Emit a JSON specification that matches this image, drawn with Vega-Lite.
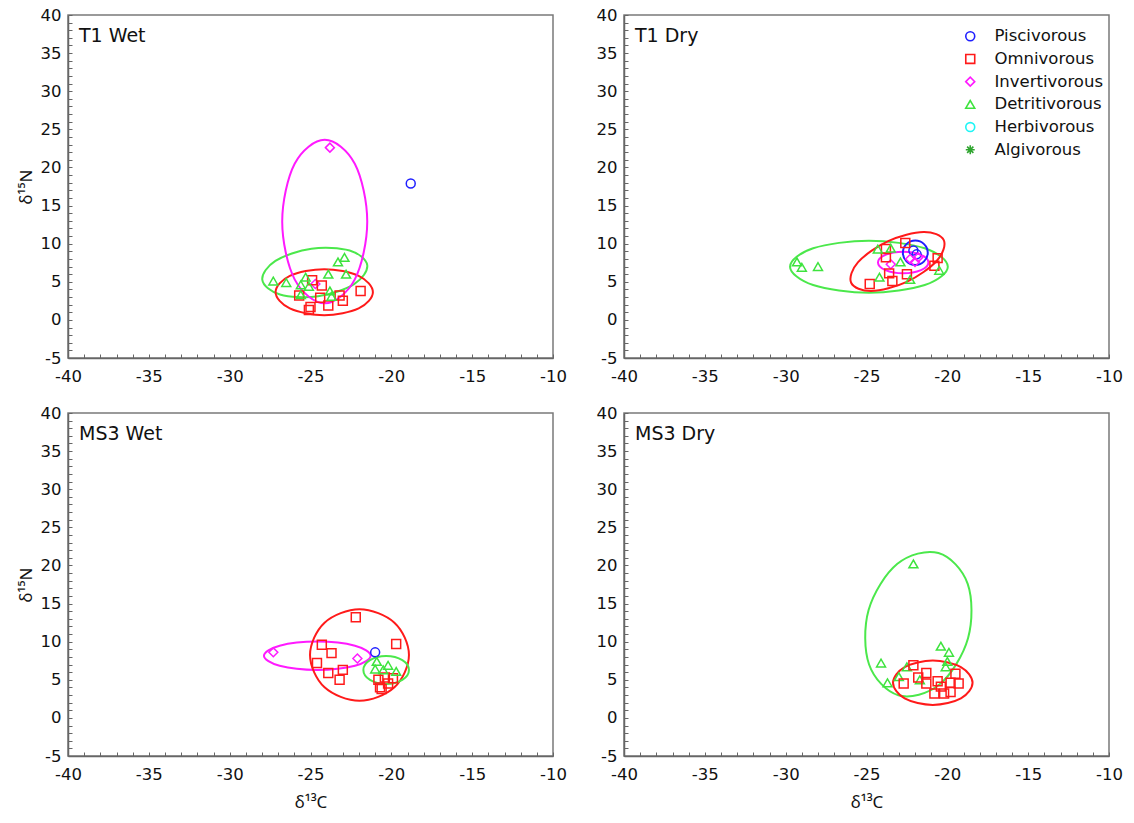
{
  "$schema": "https://vega.github.io/schema/vega-lite/v6.json",
  "background": "white",
  "padding": {"left": 16, "top": 6, "right": 5, "bottom": 5},
  "columns": 2,
  "spacing": {"row": 55, "column": 71},
  "bounds": "flush",
  "resolve": {"scale": {"color": "independent", "shape": "independent", "stroke": "independent"}},
  "datasets": {
    "pts": [
      {"panel": "T1 Wet", "group": "Piscivorous", "x": -18.8, "y": 17.9},
      {"panel": "T1 Wet", "group": "Invertivorous", "x": -23.8, "y": 22.6},
      {"panel": "T1 Wet", "group": "Invertivorous", "x": -24.7, "y": 4.7},
      {"panel": "T1 Wet", "group": "Omnivorous", "x": -24.9, "y": 5.2},
      {"panel": "T1 Wet", "group": "Omnivorous", "x": -24.3, "y": 4.5},
      {"panel": "T1 Wet", "group": "Omnivorous", "x": -25.7, "y": 3.2},
      {"panel": "T1 Wet", "group": "Omnivorous", "x": -25.0, "y": 1.7},
      {"panel": "T1 Wet", "group": "Omnivorous", "x": -24.4, "y": 2.9},
      {"panel": "T1 Wet", "group": "Omnivorous", "x": -23.9, "y": 1.9},
      {"panel": "T1 Wet", "group": "Omnivorous", "x": -23.2, "y": 3.2},
      {"panel": "T1 Wet", "group": "Omnivorous", "x": -23.0, "y": 2.5},
      {"panel": "T1 Wet", "group": "Omnivorous", "x": -21.9, "y": 3.8},
      {"panel": "T1 Wet", "group": "Omnivorous", "x": -25.1, "y": 1.3},
      {"panel": "T1 Wet", "group": "Detritivorous", "x": -27.3, "y": 5.1},
      {"panel": "T1 Wet", "group": "Detritivorous", "x": -26.5, "y": 4.9},
      {"panel": "T1 Wet", "group": "Detritivorous", "x": -25.3, "y": 5.6},
      {"panel": "T1 Wet", "group": "Detritivorous", "x": -25.6, "y": 4.6},
      {"panel": "T1 Wet", "group": "Detritivorous", "x": -25.1, "y": 4.4},
      {"panel": "T1 Wet", "group": "Detritivorous", "x": -23.9, "y": 6.0},
      {"panel": "T1 Wet", "group": "Detritivorous", "x": -23.3, "y": 7.6},
      {"panel": "T1 Wet", "group": "Detritivorous", "x": -22.9, "y": 8.2},
      {"panel": "T1 Wet", "group": "Detritivorous", "x": -22.8, "y": 6.0},
      {"panel": "T1 Wet", "group": "Detritivorous", "x": -23.8, "y": 3.8},
      {"panel": "T1 Wet", "group": "Detritivorous", "x": -23.7, "y": 3.1},
      {"panel": "T1 Wet", "group": "Detritivorous", "x": -25.6, "y": 3.3},

      {"panel": "T1 Dry", "group": "Piscivorous", "x": -22.1, "y": 9.1},
      {"panel": "T1 Dry", "group": "Piscivorous", "x": -21.9, "y": 8.6},
      {"panel": "T1 Dry", "group": "Invertivorous", "x": -23.5, "y": 7.3},
      {"panel": "T1 Dry", "group": "Invertivorous", "x": -22.3, "y": 8.0},
      {"panel": "T1 Dry", "group": "Invertivorous", "x": -22.0, "y": 7.6},
      {"panel": "T1 Dry", "group": "Invertivorous", "x": -21.8, "y": 8.2},
      {"panel": "T1 Dry", "group": "Omnivorous", "x": -22.6, "y": 10.1},
      {"panel": "T1 Dry", "group": "Omnivorous", "x": -23.8, "y": 9.3},
      {"panel": "T1 Dry", "group": "Omnivorous", "x": -23.8, "y": 8.2},
      {"panel": "T1 Dry", "group": "Omnivorous", "x": -23.4, "y": 5.1},
      {"panel": "T1 Dry", "group": "Omnivorous", "x": -24.8, "y": 4.7},
      {"panel": "T1 Dry", "group": "Omnivorous", "x": -23.6, "y": 6.1},
      {"panel": "T1 Dry", "group": "Omnivorous", "x": -22.5, "y": 6.0},
      {"panel": "T1 Dry", "group": "Omnivorous", "x": -20.8, "y": 7.1},
      {"panel": "T1 Dry", "group": "Omnivorous", "x": -20.6, "y": 8.1},
      {"panel": "T1 Dry", "group": "Detritivorous", "x": -29.3, "y": 7.6},
      {"panel": "T1 Dry", "group": "Detritivorous", "x": -29.0, "y": 6.9},
      {"panel": "T1 Dry", "group": "Detritivorous", "x": -28.0, "y": 7.0},
      {"panel": "T1 Dry", "group": "Detritivorous", "x": -24.3, "y": 9.3},
      {"panel": "T1 Dry", "group": "Detritivorous", "x": -23.5, "y": 9.4},
      {"panel": "T1 Dry", "group": "Detritivorous", "x": -22.9, "y": 7.6},
      {"panel": "T1 Dry", "group": "Detritivorous", "x": -24.2, "y": 5.6},
      {"panel": "T1 Dry", "group": "Detritivorous", "x": -22.3, "y": 5.3},
      {"panel": "T1 Dry", "group": "Detritivorous", "x": -20.5, "y": 6.5},

      {"panel": "MS3 Wet", "group": "Piscivorous", "x": -21.0, "y": 8.6},
      {"panel": "MS3 Wet", "group": "Invertivorous", "x": -27.3, "y": 8.6},
      {"panel": "MS3 Wet", "group": "Invertivorous", "x": -22.1, "y": 7.8},
      {"panel": "MS3 Wet", "group": "Omnivorous", "x": -22.2, "y": 13.2},
      {"panel": "MS3 Wet", "group": "Omnivorous", "x": -19.7, "y": 9.7},
      {"panel": "MS3 Wet", "group": "Omnivorous", "x": -24.3, "y": 9.6},
      {"panel": "MS3 Wet", "group": "Omnivorous", "x": -23.7, "y": 8.5},
      {"panel": "MS3 Wet", "group": "Omnivorous", "x": -24.6, "y": 7.2},
      {"panel": "MS3 Wet", "group": "Omnivorous", "x": -23.9, "y": 5.9},
      {"panel": "MS3 Wet", "group": "Omnivorous", "x": -23.0, "y": 6.3},
      {"panel": "MS3 Wet", "group": "Omnivorous", "x": -23.2, "y": 5.0},
      {"panel": "MS3 Wet", "group": "Omnivorous", "x": -20.8, "y": 5.0},
      {"panel": "MS3 Wet", "group": "Omnivorous", "x": -20.4, "y": 5.3},
      {"panel": "MS3 Wet", "group": "Omnivorous", "x": -20.7, "y": 4.0},
      {"panel": "MS3 Wet", "group": "Omnivorous", "x": -20.2, "y": 4.5},
      {"panel": "MS3 Wet", "group": "Omnivorous", "x": -19.9, "y": 5.2},
      {"panel": "MS3 Wet", "group": "Omnivorous", "x": -20.6, "y": 3.8},
      {"panel": "MS3 Wet", "group": "Detritivorous", "x": -20.9, "y": 7.4},
      {"panel": "MS3 Wet", "group": "Detritivorous", "x": -21.0, "y": 6.4},
      {"panel": "MS3 Wet", "group": "Detritivorous", "x": -20.2, "y": 6.9},
      {"panel": "MS3 Wet", "group": "Detritivorous", "x": -19.7, "y": 6.1},
      {"panel": "MS3 Wet", "group": "Detritivorous", "x": -20.5, "y": 6.3},

      {"panel": "MS3 Dry", "group": "Detritivorous", "x": -22.1, "y": 20.2},
      {"panel": "MS3 Dry", "group": "Detritivorous", "x": -20.4, "y": 9.4},
      {"panel": "MS3 Dry", "group": "Detritivorous", "x": -19.9, "y": 8.6},
      {"panel": "MS3 Dry", "group": "Detritivorous", "x": -24.1, "y": 7.2},
      {"panel": "MS3 Dry", "group": "Detritivorous", "x": -22.5, "y": 6.7},
      {"panel": "MS3 Dry", "group": "Detritivorous", "x": -20.1, "y": 6.7},
      {"panel": "MS3 Dry", "group": "Detritivorous", "x": -20.0, "y": 7.4},
      {"panel": "MS3 Dry", "group": "Detritivorous", "x": -23.7, "y": 4.6},
      {"panel": "MS3 Dry", "group": "Detritivorous", "x": -23.0, "y": 5.4},
      {"panel": "MS3 Dry", "group": "Detritivorous", "x": -21.7, "y": 5.0},
      {"panel": "MS3 Dry", "group": "Omnivorous", "x": -22.1, "y": 6.9},
      {"panel": "MS3 Dry", "group": "Omnivorous", "x": -22.7, "y": 4.5},
      {"panel": "MS3 Dry", "group": "Omnivorous", "x": -21.8, "y": 5.3},
      {"panel": "MS3 Dry", "group": "Omnivorous", "x": -21.3, "y": 5.9},
      {"panel": "MS3 Dry", "group": "Omnivorous", "x": -21.3, "y": 4.5},
      {"panel": "MS3 Dry", "group": "Omnivorous", "x": -20.6, "y": 4.8},
      {"panel": "MS3 Dry", "group": "Omnivorous", "x": -20.8, "y": 3.2},
      {"panel": "MS3 Dry", "group": "Omnivorous", "x": -20.2, "y": 3.2},
      {"panel": "MS3 Dry", "group": "Omnivorous", "x": -19.8, "y": 3.4},
      {"panel": "MS3 Dry", "group": "Omnivorous", "x": -19.8, "y": 4.6},
      {"panel": "MS3 Dry", "group": "Omnivorous", "x": -19.5, "y": 5.8},
      {"panel": "MS3 Dry", "group": "Omnivorous", "x": -19.3, "y": 4.5},
      {"panel": "MS3 Dry", "group": "Omnivorous", "x": -20.4, "y": 4.1}
    ],
    "ell": [
      {"panel": "T1 Wet", "group": "Detritivorous", "i": 0, "x": -21.49, "y": 7.19},
      {"panel": "T1 Wet", "group": "Detritivorous", "i": 1, "x": -22.30, "y": 4.70},
      {"panel": "T1 Wet", "group": "Detritivorous", "i": 2, "x": -24.53, "y": 3.10},
      {"panel": "T1 Wet", "group": "Detritivorous", "i": 3, "x": -26.89, "y": 3.33},
      {"panel": "T1 Wet", "group": "Detritivorous", "i": 4, "x": -27.98, "y": 5.25},
      {"panel": "T1 Wet", "group": "Detritivorous", "i": 5, "x": -27.17, "y": 7.74},
      {"panel": "T1 Wet", "group": "Detritivorous", "i": 6, "x": -24.94, "y": 9.34},
      {"panel": "T1 Wet", "group": "Detritivorous", "i": 7, "x": -22.58, "y": 9.11},
      {"panel": "T1 Wet", "group": "Omnivorous", "i": 0, "x": -21.14, "y": 3.64},
      {"panel": "T1 Wet", "group": "Omnivorous", "i": 1, "x": -22.02, "y": 5.77},
      {"panel": "T1 Wet", "group": "Omnivorous", "i": 2, "x": -24.15, "y": 6.66},
      {"panel": "T1 Wet", "group": "Omnivorous", "i": 3, "x": -26.28, "y": 5.77},
      {"panel": "T1 Wet", "group": "Omnivorous", "i": 4, "x": -27.16, "y": 3.64},
      {"panel": "T1 Wet", "group": "Omnivorous", "i": 5, "x": -26.28, "y": 1.51},
      {"panel": "T1 Wet", "group": "Omnivorous", "i": 6, "x": -24.15, "y": 0.62},
      {"panel": "T1 Wet", "group": "Omnivorous", "i": 7, "x": -22.02, "y": 1.51},
      {"panel": "T1 Wet", "group": "Invertivorous", "i": 0, "x": -21.49, "y": 12.9},
      {"panel": "T1 Wet", "group": "Invertivorous", "i": 1, "x": -22.26, "y": 20.48},
      {"panel": "T1 Wet", "group": "Invertivorous", "i": 2, "x": -24.12, "y": 23.62},
      {"panel": "T1 Wet", "group": "Invertivorous", "i": 3, "x": -25.98, "y": 20.48},
      {"panel": "T1 Wet", "group": "Invertivorous", "i": 4, "x": -26.75, "y": 12.9},
      {"panel": "T1 Wet", "group": "Invertivorous", "i": 5, "x": -25.98, "y": 5.32},
      {"panel": "T1 Wet", "group": "Invertivorous", "i": 6, "x": -24.12, "y": 2.18},
      {"panel": "T1 Wet", "group": "Invertivorous", "i": 7, "x": -22.26, "y": 5.32},

      {"panel": "T1 Dry", "group": "Detritivorous", "i": 0, "x": -19.97, "y": 6.98},
      {"panel": "T1 Dry", "group": "Detritivorous", "i": 1, "x": -21.40, "y": 9.39},
      {"panel": "T1 Dry", "group": "Detritivorous", "i": 2, "x": -24.85, "y": 10.39},
      {"panel": "T1 Dry", "group": "Detritivorous", "i": 3, "x": -28.30, "y": 9.39},
      {"panel": "T1 Dry", "group": "Detritivorous", "i": 4, "x": -29.73, "y": 6.98},
      {"panel": "T1 Dry", "group": "Detritivorous", "i": 5, "x": -28.30, "y": 4.57},
      {"panel": "T1 Dry", "group": "Detritivorous", "i": 6, "x": -24.85, "y": 3.57},
      {"panel": "T1 Dry", "group": "Detritivorous", "i": 7, "x": -21.40, "y": 4.57},
      {"panel": "T1 Dry", "group": "Omnivorous", "i": 0, "x": -20.22, "y": 10.46},
      {"panel": "T1 Dry", "group": "Omnivorous", "i": 1, "x": -20.65, "y": 7.76},
      {"panel": "T1 Dry", "group": "Omnivorous", "i": 2, "x": -22.51, "y": 4.99},
      {"panel": "T1 Dry", "group": "Omnivorous", "i": 3, "x": -24.71, "y": 3.79},
      {"panel": "T1 Dry", "group": "Omnivorous", "i": 4, "x": -25.95, "y": 4.87},
      {"panel": "T1 Dry", "group": "Omnivorous", "i": 5, "x": -25.52, "y": 7.57},
      {"panel": "T1 Dry", "group": "Omnivorous", "i": 6, "x": -23.66, "y": 10.34},
      {"panel": "T1 Dry", "group": "Omnivorous", "i": 7, "x": -21.47, "y": 11.54},
      {"panel": "T1 Dry", "group": "Invertivorous", "i": 0, "x": -21.17, "y": 7.53},
      {"panel": "T1 Dry", "group": "Invertivorous", "i": 1, "x": -21.63, "y": 8.53},
      {"panel": "T1 Dry", "group": "Invertivorous", "i": 2, "x": -22.73, "y": 8.95},
      {"panel": "T1 Dry", "group": "Invertivorous", "i": 3, "x": -23.83, "y": 8.53},
      {"panel": "T1 Dry", "group": "Invertivorous", "i": 4, "x": -24.29, "y": 7.53},
      {"panel": "T1 Dry", "group": "Invertivorous", "i": 5, "x": -23.83, "y": 6.53},
      {"panel": "T1 Dry", "group": "Invertivorous", "i": 6, "x": -22.73, "y": 6.11},
      {"panel": "T1 Dry", "group": "Invertivorous", "i": 7, "x": -21.63, "y": 6.53},
      {"panel": "T1 Dry", "group": "Piscivorous", "i": 0, "x": -21.21, "y": 8.81},
      {"panel": "T1 Dry", "group": "Piscivorous", "i": 1, "x": -21.44, "y": 9.94},
      {"panel": "T1 Dry", "group": "Piscivorous", "i": 2, "x": -21.98, "y": 10.41},
      {"panel": "T1 Dry", "group": "Piscivorous", "i": 3, "x": -22.53, "y": 9.94},
      {"panel": "T1 Dry", "group": "Piscivorous", "i": 4, "x": -22.75, "y": 8.81},
      {"panel": "T1 Dry", "group": "Piscivorous", "i": 5, "x": -22.53, "y": 7.68},
      {"panel": "T1 Dry", "group": "Piscivorous", "i": 6, "x": -21.98, "y": 7.21},
      {"panel": "T1 Dry", "group": "Piscivorous", "i": 7, "x": -21.44, "y": 7.68},

      {"panel": "MS3 Wet", "group": "Invertivorous", "i": 0, "x": -21.28, "y": 8.15},
      {"panel": "MS3 Wet", "group": "Invertivorous", "i": 1, "x": -22.25, "y": 9.47},
      {"panel": "MS3 Wet", "group": "Invertivorous", "i": 2, "x": -24.58, "y": 10.01},
      {"panel": "MS3 Wet", "group": "Invertivorous", "i": 3, "x": -26.91, "y": 9.47},
      {"panel": "MS3 Wet", "group": "Invertivorous", "i": 4, "x": -27.88, "y": 8.15},
      {"panel": "MS3 Wet", "group": "Invertivorous", "i": 5, "x": -26.91, "y": 6.83},
      {"panel": "MS3 Wet", "group": "Invertivorous", "i": 6, "x": -24.58, "y": 6.29},
      {"panel": "MS3 Wet", "group": "Invertivorous", "i": 7, "x": -22.25, "y": 6.83},
      {"panel": "MS3 Wet", "group": "Omnivorous", "i": 0, "x": -18.91, "y": 8.25},
      {"panel": "MS3 Wet", "group": "Omnivorous", "i": 1, "x": -19.81, "y": 12.49},
      {"panel": "MS3 Wet", "group": "Omnivorous", "i": 2, "x": -21.97, "y": 14.25},
      {"panel": "MS3 Wet", "group": "Omnivorous", "i": 3, "x": -24.13, "y": 12.49},
      {"panel": "MS3 Wet", "group": "Omnivorous", "i": 4, "x": -25.03, "y": 8.25},
      {"panel": "MS3 Wet", "group": "Omnivorous", "i": 5, "x": -24.13, "y": 4.01},
      {"panel": "MS3 Wet", "group": "Omnivorous", "i": 6, "x": -21.97, "y": 2.25},
      {"panel": "MS3 Wet", "group": "Omnivorous", "i": 7, "x": -19.81, "y": 4.01},
      {"panel": "MS3 Wet", "group": "Detritivorous", "i": 0, "x": -18.91, "y": 6.29},
      {"panel": "MS3 Wet", "group": "Detritivorous", "i": 1, "x": -19.32, "y": 7.59},
      {"panel": "MS3 Wet", "group": "Detritivorous", "i": 2, "x": -20.32, "y": 8.13},
      {"panel": "MS3 Wet", "group": "Detritivorous", "i": 3, "x": -21.32, "y": 7.59},
      {"panel": "MS3 Wet", "group": "Detritivorous", "i": 4, "x": -21.73, "y": 6.29},
      {"panel": "MS3 Wet", "group": "Detritivorous", "i": 5, "x": -21.32, "y": 4.99},
      {"panel": "MS3 Wet", "group": "Detritivorous", "i": 6, "x": -20.32, "y": 4.45},
      {"panel": "MS3 Wet", "group": "Detritivorous", "i": 7, "x": -19.32, "y": 4.99},

      {"panel": "MS3 Dry", "group": "Detritivorous", "i": 0, "x": -20.55, "y": 21.63},
      {"panel": "MS3 Dry", "group": "Detritivorous", "i": 1, "x": -18.74, "y": 17.59},
      {"panel": "MS3 Dry", "group": "Detritivorous", "i": 2, "x": -18.72, "y": 10.45},
      {"panel": "MS3 Dry", "group": "Detritivorous", "i": 3, "x": -20.49, "y": 4.38},
      {"panel": "MS3 Dry", "group": "Detritivorous", "i": 4, "x": -23.03, "y": 2.97},
      {"panel": "MS3 Dry", "group": "Detritivorous", "i": 5, "x": -24.84, "y": 7.01},
      {"panel": "MS3 Dry", "group": "Detritivorous", "i": 6, "x": -24.87, "y": 14.15},
      {"panel": "MS3 Dry", "group": "Detritivorous", "i": 7, "x": -23.09, "y": 20.21},
      {"panel": "MS3 Dry", "group": "Omnivorous", "i": 0, "x": -18.44, "y": 4.61},
      {"panel": "MS3 Dry", "group": "Omnivorous", "i": 1, "x": -19.16, "y": 6.67},
      {"panel": "MS3 Dry", "group": "Omnivorous", "i": 2, "x": -20.9, "y": 7.52},
      {"panel": "MS3 Dry", "group": "Omnivorous", "i": 3, "x": -22.64, "y": 6.67},
      {"panel": "MS3 Dry", "group": "Omnivorous", "i": 4, "x": -23.36, "y": 4.61},
      {"panel": "MS3 Dry", "group": "Omnivorous", "i": 5, "x": -22.64, "y": 2.55},
      {"panel": "MS3 Dry", "group": "Omnivorous", "i": 6, "x": -20.9, "y": 1.70},
      {"panel": "MS3 Dry", "group": "Omnivorous", "i": 7, "x": -19.16, "y": 2.55}
    ]
  },
  "concat": [
    {
      "width": 485, "height": 343,
      "layer": [
        {"data": {"name": "ell"}, "transform": [{"filter": "datum.panel === 'T1 Wet'"}],
         "mark": {"type": "line", "interpolate": "cardinal-closed", "strokeWidth": 2},
         "encoding": {
           "x": {"field": "x", "type": "quantitative", "scale": {"domain": [-40, -10], "nice": false, "zero": false},
                 "axis": {"title": null, "values": [-40,-39,-38,-37,-36,-35,-34,-33,-32,-31,-30,-29,-28,-27,-26,-25,-24,-23,-22,-21,-20,-19,-18,-17,-16,-15,-14,-13,-12,-11,-10]}},
           "y": {"field": "y", "type": "quantitative", "scale": {"domain": [-5, 40], "nice": false, "zero": false},
                 "axis": {"title": "δ¹⁵N", "values": [-5,-4,-3,-2,-1,0,1,2,3,4,5,6,7,8,9,10,11,12,13,14,15,16,17,18,19,20,21,22,23,24,25,26,27,28,29,30,31,32,33,34,35,36,37,38,39,40]}},
           "order": {"field": "i"}, "detail": {"field": "group"},
           "stroke": {"field": "group", "type": "nominal", "legend": null,
             "scale": {"domain": ["Piscivorous","Omnivorous","Invertivorous","Detritivorous"], "range": ["#1f1fff","#ff1a1a","#ff1aff","#4be84b"]}}}},
        {"data": {"name": "pts"}, "transform": [{"filter": "datum.panel === 'T1 Wet'"}],
         "mark": {"type": "point", "filled": false, "size": 80, "strokeWidth": 1.5, "opacity": 1},
         "encoding": {
           "x": {"field": "x", "type": "quantitative", "scale": {"domain": [-40, -10], "nice": false, "zero": false},
                 "axis": {"title": null, "values": [-40,-39,-38,-37,-36,-35,-34,-33,-32,-31,-30,-29,-28,-27,-26,-25,-24,-23,-22,-21,-20,-19,-18,-17,-16,-15,-14,-13,-12,-11,-10]}},
           "y": {"field": "y", "type": "quantitative", "scale": {"domain": [-5, 40], "nice": false, "zero": false},
                 "axis": {"title": "δ¹⁵N", "values": [-5,-4,-3,-2,-1,0,1,2,3,4,5,6,7,8,9,10,11,12,13,14,15,16,17,18,19,20,21,22,23,24,25,26,27,28,29,30,31,32,33,34,35,36,37,38,39,40]}},
           "color": {"field": "group", "type": "nominal", "legend": null,
             "scale": {"domain": ["Piscivorous","Omnivorous","Invertivorous","Detritivorous","Herbivorous","Algivorous"], "range": ["#1f1fff","#ff1a1a","#ff1aff","#3ee33e","#1ff5f5","#2fa52f"]}},
           "shape": {"field": "group", "type": "nominal", "legend": null,
             "scale": {"domain": ["Piscivorous","Omnivorous","Invertivorous","Detritivorous","Herbivorous","Algivorous"], "range": ["circle","square","diamond","triangle-up","circle","M-1,0H1M0,-1V1M-0.7,-0.7L0.7,0.7M-0.7,0.7L0.7,-0.7"]}}}},
        {"data": {"values": [{"panel": "T1 Wet"}]},
         "mark": {"type": "text", "align": "left", "baseline": "middle", "font": "DejaVu Sans", "fontSize": 19, "color": "#111"},
         "encoding": {
           "x": {"datum": -39.32, "type": "quantitative", "scale": {"domain": [-40, -10], "nice": false, "zero": false},
                 "axis": {"title": null, "values": [-40,-39,-38,-37,-36,-35,-34,-33,-32,-31,-30,-29,-28,-27,-26,-25,-24,-23,-22,-21,-20,-19,-18,-17,-16,-15,-14,-13,-12,-11,-10]}},
           "y": {"datum": 37.3, "type": "quantitative", "scale": {"domain": [-5, 40], "nice": false, "zero": false},
                 "axis": {"title": "δ¹⁵N", "values": [-5,-4,-3,-2,-1,0,1,2,3,4,5,6,7,8,9,10,11,12,13,14,15,16,17,18,19,20,21,22,23,24,25,26,27,28,29,30,31,32,33,34,35,36,37,38,39,40]}},
           "text": {"field": "panel"}}}
      ]
    },
    {
      "width": 485, "height": 343,
      "layer": [
        {"data": {"name": "ell"}, "transform": [{"filter": "datum.panel === 'T1 Dry'"}],
         "mark": {"type": "line", "interpolate": "cardinal-closed", "strokeWidth": 2},
         "encoding": {
           "x": {"field": "x", "type": "quantitative", "scale": {"domain": [-40, -10], "nice": false, "zero": false},
                 "axis": {"title": null, "values": [-40,-39,-38,-37,-36,-35,-34,-33,-32,-31,-30,-29,-28,-27,-26,-25,-24,-23,-22,-21,-20,-19,-18,-17,-16,-15,-14,-13,-12,-11,-10]}},
           "y": {"field": "y", "type": "quantitative", "scale": {"domain": [-5, 40], "nice": false, "zero": false},
                 "axis": {"title": null, "values": [-5,-4,-3,-2,-1,0,1,2,3,4,5,6,7,8,9,10,11,12,13,14,15,16,17,18,19,20,21,22,23,24,25,26,27,28,29,30,31,32,33,34,35,36,37,38,39,40]}},
           "order": {"field": "i"}, "detail": {"field": "group"},
           "stroke": {"field": "group", "type": "nominal", "legend": null,
             "scale": {"domain": ["Piscivorous","Omnivorous","Invertivorous","Detritivorous"], "range": ["#1f1fff","#ff1a1a","#ff1aff","#4be84b"]}}}},
        {"data": {"name": "pts"}, "transform": [{"filter": "datum.panel === 'T1 Dry'"}],
         "mark": {"type": "point", "filled": false, "size": 80, "strokeWidth": 1.5, "opacity": 1},
         "encoding": {
           "x": {"field": "x", "type": "quantitative", "scale": {"domain": [-40, -10], "nice": false, "zero": false},
                 "axis": {"title": null, "values": [-40,-39,-38,-37,-36,-35,-34,-33,-32,-31,-30,-29,-28,-27,-26,-25,-24,-23,-22,-21,-20,-19,-18,-17,-16,-15,-14,-13,-12,-11,-10]}},
           "y": {"field": "y", "type": "quantitative", "scale": {"domain": [-5, 40], "nice": false, "zero": false},
                 "axis": {"title": null, "values": [-5,-4,-3,-2,-1,0,1,2,3,4,5,6,7,8,9,10,11,12,13,14,15,16,17,18,19,20,21,22,23,24,25,26,27,28,29,30,31,32,33,34,35,36,37,38,39,40]}},
           "color": {"field": "group", "type": "nominal",
             "legend": {"orient": "none", "legendX": 338, "legendY": 13, "title": null},
             "scale": {"domain": ["Piscivorous","Omnivorous","Invertivorous","Detritivorous","Herbivorous","Algivorous"], "range": ["#1f1fff","#ff1a1a","#ff1aff","#3ee33e","#1ff5f5","#2fa52f"]}},
           "shape": {"field": "group", "type": "nominal",
             "legend": {"orient": "none", "legendX": 338, "legendY": 13, "title": null},
             "scale": {"domain": ["Piscivorous","Omnivorous","Invertivorous","Detritivorous","Herbivorous","Algivorous"], "range": ["circle","square","diamond","triangle-up","circle","M-1,0H1M0,-1V1M-0.7,-0.7L0.7,0.7M-0.7,0.7L0.7,-0.7"]}}}},
        {"data": {"values": [{"panel": "T1 Dry"}]},
         "mark": {"type": "text", "align": "left", "baseline": "middle", "font": "DejaVu Sans", "fontSize": 19, "color": "#111"},
         "encoding": {
           "x": {"datum": -39.32, "type": "quantitative", "scale": {"domain": [-40, -10], "nice": false, "zero": false},
                 "axis": {"title": null, "values": [-40,-39,-38,-37,-36,-35,-34,-33,-32,-31,-30,-29,-28,-27,-26,-25,-24,-23,-22,-21,-20,-19,-18,-17,-16,-15,-14,-13,-12,-11,-10]}},
           "y": {"datum": 37.3, "type": "quantitative", "scale": {"domain": [-5, 40], "nice": false, "zero": false},
                 "axis": {"title": null, "values": [-5,-4,-3,-2,-1,0,1,2,3,4,5,6,7,8,9,10,11,12,13,14,15,16,17,18,19,20,21,22,23,24,25,26,27,28,29,30,31,32,33,34,35,36,37,38,39,40]}},
           "text": {"field": "panel"}}}
      ]
    },
    {
      "width": 485, "height": 343,
      "layer": [
        {"data": {"name": "ell"}, "transform": [{"filter": "datum.panel === 'MS3 Wet'"}],
         "mark": {"type": "line", "interpolate": "cardinal-closed", "strokeWidth": 2},
         "encoding": {
           "x": {"field": "x", "type": "quantitative", "scale": {"domain": [-40, -10], "nice": false, "zero": false},
                 "axis": {"title": "δ¹³C", "values": [-40,-39,-38,-37,-36,-35,-34,-33,-32,-31,-30,-29,-28,-27,-26,-25,-24,-23,-22,-21,-20,-19,-18,-17,-16,-15,-14,-13,-12,-11,-10]}},
           "y": {"field": "y", "type": "quantitative", "scale": {"domain": [-5, 40], "nice": false, "zero": false},
                 "axis": {"title": "δ¹⁵N", "values": [-5,-4,-3,-2,-1,0,1,2,3,4,5,6,7,8,9,10,11,12,13,14,15,16,17,18,19,20,21,22,23,24,25,26,27,28,29,30,31,32,33,34,35,36,37,38,39,40]}},
           "order": {"field": "i"}, "detail": {"field": "group"},
           "stroke": {"field": "group", "type": "nominal", "legend": null,
             "scale": {"domain": ["Piscivorous","Omnivorous","Invertivorous","Detritivorous"], "range": ["#1f1fff","#ff1a1a","#ff1aff","#4be84b"]}}}},
        {"data": {"name": "pts"}, "transform": [{"filter": "datum.panel === 'MS3 Wet'"}],
         "mark": {"type": "point", "filled": false, "size": 80, "strokeWidth": 1.5, "opacity": 1},
         "encoding": {
           "x": {"field": "x", "type": "quantitative", "scale": {"domain": [-40, -10], "nice": false, "zero": false},
                 "axis": {"title": "δ¹³C", "values": [-40,-39,-38,-37,-36,-35,-34,-33,-32,-31,-30,-29,-28,-27,-26,-25,-24,-23,-22,-21,-20,-19,-18,-17,-16,-15,-14,-13,-12,-11,-10]}},
           "y": {"field": "y", "type": "quantitative", "scale": {"domain": [-5, 40], "nice": false, "zero": false},
                 "axis": {"title": "δ¹⁵N", "values": [-5,-4,-3,-2,-1,0,1,2,3,4,5,6,7,8,9,10,11,12,13,14,15,16,17,18,19,20,21,22,23,24,25,26,27,28,29,30,31,32,33,34,35,36,37,38,39,40]}},
           "color": {"field": "group", "type": "nominal", "legend": null,
             "scale": {"domain": ["Piscivorous","Omnivorous","Invertivorous","Detritivorous","Herbivorous","Algivorous"], "range": ["#1f1fff","#ff1a1a","#ff1aff","#3ee33e","#1ff5f5","#2fa52f"]}},
           "shape": {"field": "group", "type": "nominal", "legend": null,
             "scale": {"domain": ["Piscivorous","Omnivorous","Invertivorous","Detritivorous","Herbivorous","Algivorous"], "range": ["circle","square","diamond","triangle-up","circle","M-1,0H1M0,-1V1M-0.7,-0.7L0.7,0.7M-0.7,0.7L0.7,-0.7"]}}}},
        {"data": {"values": [{"panel": "MS3 Wet"}]},
         "mark": {"type": "text", "align": "left", "baseline": "middle", "font": "DejaVu Sans", "fontSize": 19, "color": "#111"},
         "encoding": {
           "x": {"datum": -39.32, "type": "quantitative", "scale": {"domain": [-40, -10], "nice": false, "zero": false},
                 "axis": {"title": "δ¹³C", "values": [-40,-39,-38,-37,-36,-35,-34,-33,-32,-31,-30,-29,-28,-27,-26,-25,-24,-23,-22,-21,-20,-19,-18,-17,-16,-15,-14,-13,-12,-11,-10]}},
           "y": {"datum": 37.3, "type": "quantitative", "scale": {"domain": [-5, 40], "nice": false, "zero": false},
                 "axis": {"title": "δ¹⁵N", "values": [-5,-4,-3,-2,-1,0,1,2,3,4,5,6,7,8,9,10,11,12,13,14,15,16,17,18,19,20,21,22,23,24,25,26,27,28,29,30,31,32,33,34,35,36,37,38,39,40]}},
           "text": {"field": "panel"}}}
      ]
    },
    {
      "width": 485, "height": 343,
      "layer": [
        {"data": {"name": "ell"}, "transform": [{"filter": "datum.panel === 'MS3 Dry'"}],
         "mark": {"type": "line", "interpolate": "cardinal-closed", "strokeWidth": 2},
         "encoding": {
           "x": {"field": "x", "type": "quantitative", "scale": {"domain": [-40, -10], "nice": false, "zero": false},
                 "axis": {"title": "δ¹³C", "values": [-40,-39,-38,-37,-36,-35,-34,-33,-32,-31,-30,-29,-28,-27,-26,-25,-24,-23,-22,-21,-20,-19,-18,-17,-16,-15,-14,-13,-12,-11,-10]}},
           "y": {"field": "y", "type": "quantitative", "scale": {"domain": [-5, 40], "nice": false, "zero": false},
                 "axis": {"title": null, "values": [-5,-4,-3,-2,-1,0,1,2,3,4,5,6,7,8,9,10,11,12,13,14,15,16,17,18,19,20,21,22,23,24,25,26,27,28,29,30,31,32,33,34,35,36,37,38,39,40]}},
           "order": {"field": "i"}, "detail": {"field": "group"},
           "stroke": {"field": "group", "type": "nominal", "legend": null,
             "scale": {"domain": ["Piscivorous","Omnivorous","Invertivorous","Detritivorous"], "range": ["#1f1fff","#ff1a1a","#ff1aff","#4be84b"]}}}},
        {"data": {"name": "pts"}, "transform": [{"filter": "datum.panel === 'MS3 Dry'"}],
         "mark": {"type": "point", "filled": false, "size": 80, "strokeWidth": 1.5, "opacity": 1},
         "encoding": {
           "x": {"field": "x", "type": "quantitative", "scale": {"domain": [-40, -10], "nice": false, "zero": false},
                 "axis": {"title": "δ¹³C", "values": [-40,-39,-38,-37,-36,-35,-34,-33,-32,-31,-30,-29,-28,-27,-26,-25,-24,-23,-22,-21,-20,-19,-18,-17,-16,-15,-14,-13,-12,-11,-10]}},
           "y": {"field": "y", "type": "quantitative", "scale": {"domain": [-5, 40], "nice": false, "zero": false},
                 "axis": {"title": null, "values": [-5,-4,-3,-2,-1,0,1,2,3,4,5,6,7,8,9,10,11,12,13,14,15,16,17,18,19,20,21,22,23,24,25,26,27,28,29,30,31,32,33,34,35,36,37,38,39,40]}},
           "color": {"field": "group", "type": "nominal", "legend": null,
             "scale": {"domain": ["Piscivorous","Omnivorous","Invertivorous","Detritivorous","Herbivorous","Algivorous"], "range": ["#1f1fff","#ff1a1a","#ff1aff","#3ee33e","#1ff5f5","#2fa52f"]}},
           "shape": {"field": "group", "type": "nominal", "legend": null,
             "scale": {"domain": ["Piscivorous","Omnivorous","Invertivorous","Detritivorous","Herbivorous","Algivorous"], "range": ["circle","square","diamond","triangle-up","circle","M-1,0H1M0,-1V1M-0.7,-0.7L0.7,0.7M-0.7,0.7L0.7,-0.7"]}}}},
        {"data": {"values": [{"panel": "MS3 Dry"}]},
         "mark": {"type": "text", "align": "left", "baseline": "middle", "font": "DejaVu Sans", "fontSize": 19, "color": "#111"},
         "encoding": {
           "x": {"datum": -39.32, "type": "quantitative", "scale": {"domain": [-40, -10], "nice": false, "zero": false},
                 "axis": {"title": "δ¹³C", "values": [-40,-39,-38,-37,-36,-35,-34,-33,-32,-31,-30,-29,-28,-27,-26,-25,-24,-23,-22,-21,-20,-19,-18,-17,-16,-15,-14,-13,-12,-11,-10]}},
           "y": {"datum": 37.3, "type": "quantitative", "scale": {"domain": [-5, 40], "nice": false, "zero": false},
                 "axis": {"title": null, "values": [-5,-4,-3,-2,-1,0,1,2,3,4,5,6,7,8,9,10,11,12,13,14,15,16,17,18,19,20,21,22,23,24,25,26,27,28,29,30,31,32,33,34,35,36,37,38,39,40]}},
           "text": {"field": "panel"}}}
      ]
    }
  ],
  "config": {
    "font": "DejaVu Sans",
    "view": {"stroke": "#7a7a7a", "strokeWidth": 1.5},
    "axis": {
      "grid": false,
      "domainColor": "#666666", "domainWidth": 1.5,
      "tickColor": "#666666", "tickWidth": 1, "tickSize": -4,
      "labelExpr": "datum.value % 5 === 0 ? '' + datum.value : ''",
      "labelFont": "DejaVu Sans", "labelFontSize": 16.5, "labelColor": "#111111",
      "labelFlush": false, "labelOverlap": false,
      "titleFont": "Noto Sans", "titleFontSize": 17, "titleFontWeight": "normal", "titleColor": "#111111"
    },
    "axisX": {"labelPadding": 14, "titlePadding": 12},
    "axisY": {"labelPadding": 11, "titlePadding": 5},
    "legend": {
      "labelFont": "DejaVu Sans", "labelFontSize": 16.5, "labelColor": "#111111",
      "symbolSize": 80, "symbolStrokeWidth": 1.6, "symbolFillColor": "transparent",
      "rowPadding": 5.7, "labelOffset": 16, "padding": 0
    }
  }
}
